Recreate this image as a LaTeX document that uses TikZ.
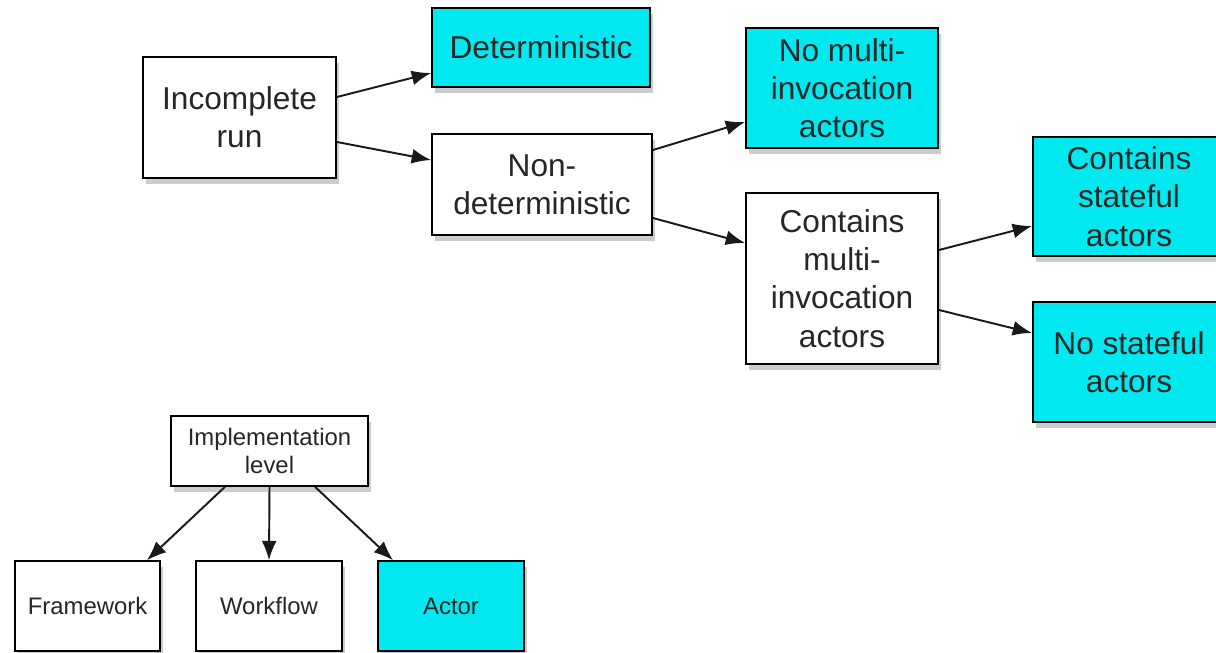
\documentclass[tikz,border=0pt]{standalone}
\usepackage{fontspec}
\setmainfont{Liberation Sans}
\usetikzlibrary{arrows.meta, calc, shadows}

\definecolor{hitcyan}{RGB}{0,232,240}

\begin{document}
\begin{tikzpicture}[
  x=0.02cm, y=-0.02cm,
  box/.style={rectangle,draw=black,fill=white,line width=1.1pt,align=center,text=black!85,
    font=\fontsize{18}{21.8}\selectfont,inner sep=2pt,
    drop shadow={shadow xshift=1.5pt,shadow yshift=-3.5pt,opacity=0.4}},
  hit/.style={box,fill=hitcyan},
  sbox/.style={box,font=\fontsize{13.6}{16}\selectfont,line width=0.9pt},
  shit/.style={sbox,fill=hitcyan},
  link/.style={-{Latex[length=11pt,width=8.5pt]},line width=1.1pt,black!90}
]
  \useasboundingbox (0,0) rectangle (1216,652);
  % decision tree
  \node[box, minimum width=3.86cm, minimum height=2.42cm](ir) at (239.5,117.5) {Incomplete\\run};
  \node[hit, minimum width=4.36cm, minimum height=1.58cm](det) at (541,47.5) {Deterministic};
  \node[box, minimum width=4.40cm, minimum height=2.02cm](nondet) at (542,184.5) {Non-\\deterministic};
  \node[hit, minimum width=3.84cm, minimum height=2.40cm](nomulti) at (842,88) {No multi-\\invocation\\actors};
  \node[box, minimum width=3.84cm, minimum height=3.42cm](multi) at (842,278.5) {Contains\\multi-\\invocation\\actors};
  \node[hit, minimum width=3.84cm, minimum height=2.38cm](stateful) at (1129,196.5) {Contains\\stateful\\actors};
  \node[hit, minimum width=3.84cm, minimum height=2.40cm](nostateful) at (1129,362) {No stateful\\actors};
  \draw[link] ($(ir.east)+(0,-20.5)$) -- ($(det.west)+(0,25.5)$);
  \draw[link] ($(ir.east)+(0,24.5)$) -- ($(nondet.west)+(0,-24.5)$);
  \draw[link] ($(nondet.east)+(0,-34.5)$) -- ($(nomulti.west)+(0,34)$);
  \draw[link] ($(nondet.east)+(0,33.5)$) -- ($(multi.west)+(0,-35.5)$);
  \draw[link] ($(multi.east)+(0,-28.5)$) -- ($(stateful.west)+(0,29.5)$);
  \draw[link] ($(multi.east)+(0,31.5)$) -- ($(nostateful.west)+(0,-29)$);
  % implementation level
  \node[sbox, minimum width=3.94cm, minimum height=1.40cm](impl) at (269.5,451) {Implementation\\level};
  \node[sbox, minimum width=2.90cm, minimum height=1.80cm](fw) at (87.5,606) {Framework};
  \node[sbox, minimum width=2.92cm, minimum height=1.80cm](wf) at (269,606) {Workflow};
  \node[shit, minimum width=2.92cm, minimum height=1.80cm](actor) at (451,606) {Actor};
  \draw[link] ($(impl.south)+(-44.5,0)$) -- ($(fw.north)+(59.5,0)$);
  \draw[link] (impl.south) -- (wf.north);
  \draw[link] ($(impl.south)+(45.5,0)$) -- ($(actor.north)+(-58,0)$);
\end{tikzpicture}
\end{document}
